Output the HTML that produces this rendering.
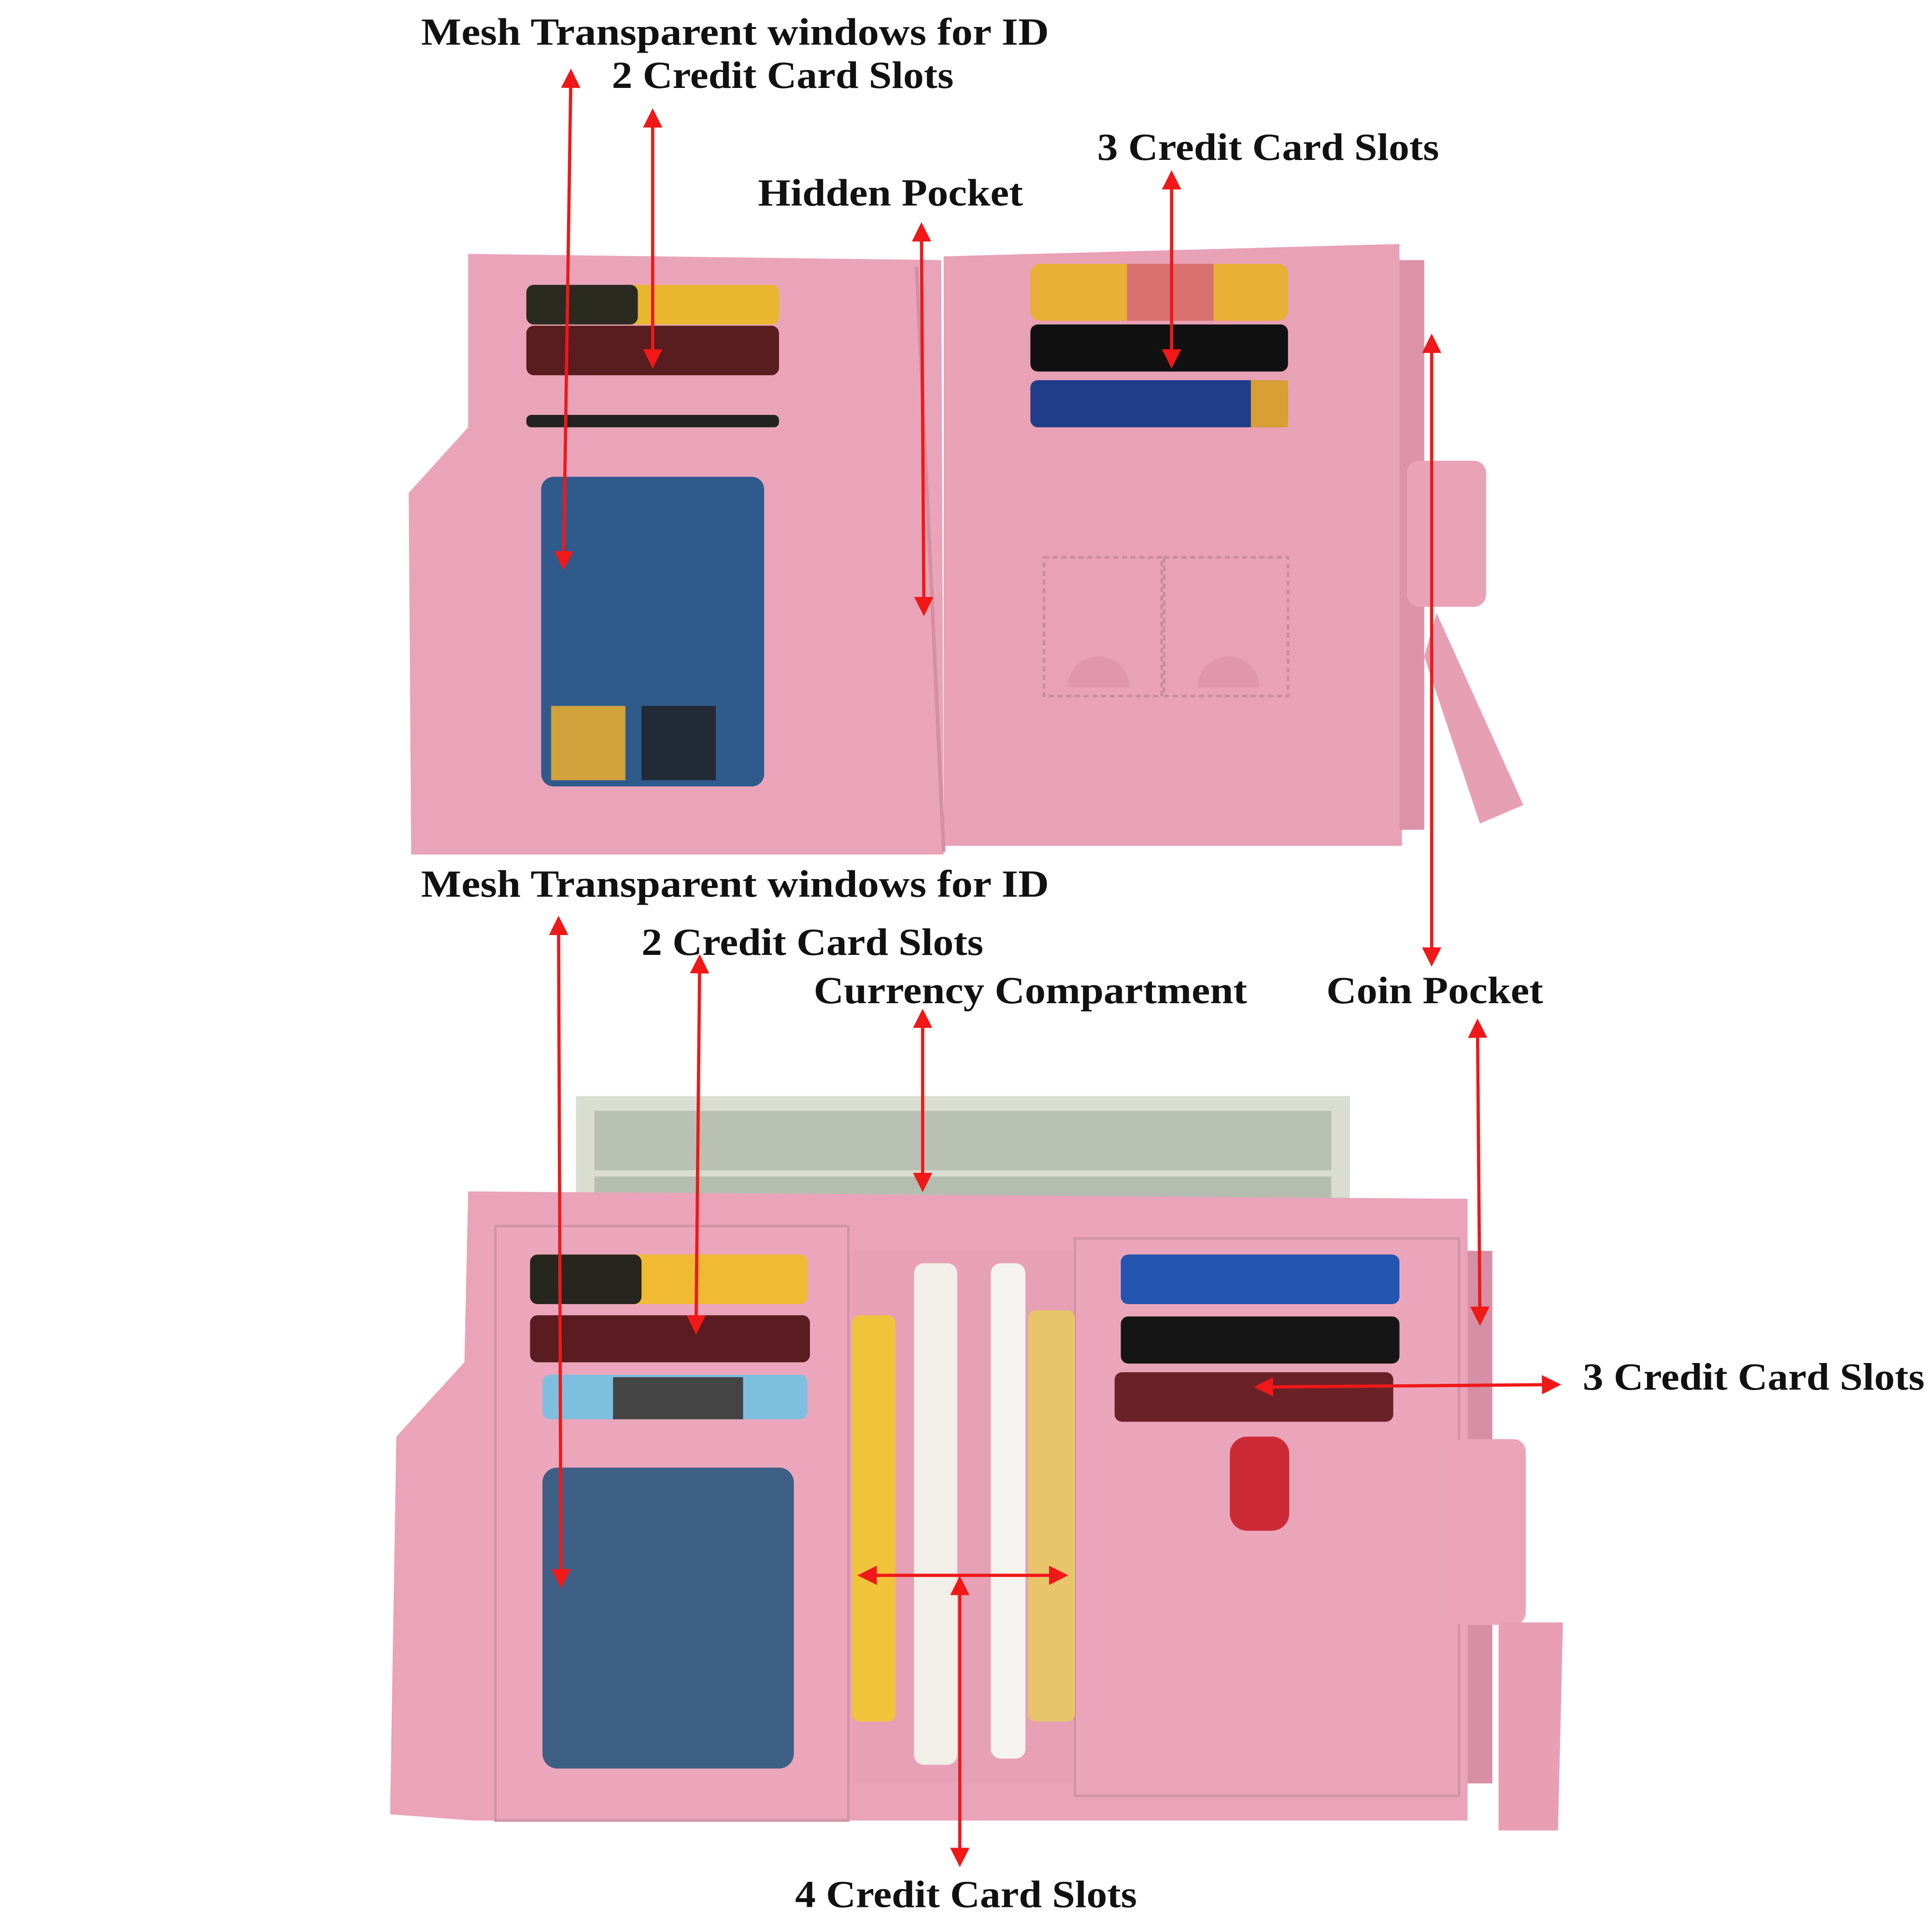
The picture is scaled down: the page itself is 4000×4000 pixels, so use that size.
<!DOCTYPE html>
<html><head><meta charset="utf-8"><style>
html,body{margin:0;padding:0;background:#fff}
svg{display:block}
text{font-family:"Liberation Serif",serif;font-weight:bold;font-size:31px;fill:#111}
</style></head><body>
<svg width="4000" height="4000" viewBox="0 0 1560 1560" xmlns="http://www.w3.org/2000/svg">
<defs>
<marker id="a" markerWidth="6" markerHeight="6" refX="5" refY="3" orient="auto-start-reverse" markerUnits="strokeWidth">
<path d="M0,0 L6,3 L0,6 z" fill="#f01818"/></marker>
</defs>
<!-- TOP WALLET -->
<path d="M378,205 L760,210 L762,690 L332,690 L330,398 L378,345 Z" fill="#eaa4b9"/>
<path d="M762,207 L1130,197 L1132,683 L762,683 Z" fill="#e9a1b6"/>
<rect x="1130" y="210" width="20" height="460" fill="#dc93a8"/>
<rect x="1136" y="372" width="64" height="118" rx="10" fill="#eaa2b7"/>
<path d="M1160,495 L1230,650 L1195,665 L1150,530 Z" fill="#e79fb3"/>
<line x1="740" y1="215" x2="762" y2="688" stroke="#d48fa3" stroke-width="3"/>
<rect x="425" y="230" width="204" height="32" rx="6" fill="#e9b630"/>
<rect x="425" y="230" width="90" height="32" rx="6" fill="#2a2a20"/>
<rect x="425" y="263" width="204" height="40" rx="6" fill="#5a1d1f"/>
<rect x="425" y="335" width="204" height="10" rx="4" fill="#222"/>
<rect x="437" y="385" width="180" height="250" rx="10" fill="#2f5a8c"/>
<rect x="445" y="570" width="60" height="60" fill="#d2a23a"/>
<rect x="518" y="570" width="60" height="60" fill="#222a35"/>
<rect x="832" y="213" width="208" height="46" rx="8" fill="#e8b035"/>
<rect x="910" y="213" width="70" height="46" fill="#d97070"/>
<rect x="832" y="262" width="208" height="38" rx="6" fill="#111"/>
<rect x="832" y="307" width="208" height="38" rx="6" fill="#1f3d8a"/>
<rect x="1010" y="307" width="30" height="38" fill="#d8a034"/>
<rect x="843" y="450" width="95" height="112" fill="none" stroke="#c98a9d" stroke-width="2" stroke-dasharray="4 3"/>
<rect x="940" y="450" width="100" height="112" fill="none" stroke="#c98a9d" stroke-width="2" stroke-dasharray="4 3"/>
<path d="M862,555 a25,25 0 0 1 50,0 z" fill="#e096ab"/>
<path d="M967,555 a25,25 0 0 1 50,0 z" fill="#e096ab"/>
<!-- BOTTOM WALLET -->
<rect x="465" y="885" width="625" height="110" fill="#d9ddd2"/>
<rect x="480" y="897" width="595" height="48" fill="#b9c1b5"/>
<rect x="480" y="950" width="595" height="45" fill="#b5bdb1"/>
<path d="M378,962 L1185,968 L1185,1470 L382,1470 L315,1465 L320,1160 L375,1100 Z" fill="#eaa3b8"/>
<rect x="400" y="990" width="285" height="480" fill="#eca6bb" stroke="#d293a6" stroke-width="2"/>
<rect x="688" y="1010" width="180" height="430" fill="#e7a0b5"/>
<rect x="868" y="1000" width="310" height="450" fill="#eba5ba" stroke="#d293a6" stroke-width="2"/>
<rect x="688" y="1062" width="35" height="328" rx="6" fill="#f0c43a"/>
<rect x="738" y="1020" width="35" height="405" rx="8" fill="#f2eee8"/>
<rect x="800" y="1020" width="28" height="400" rx="8" fill="#f5f3f0"/>
<rect x="830" y="1058" width="38" height="332" rx="6" fill="#e8c56a"/>
<rect x="428" y="1013" width="224" height="40" rx="6" fill="#f0bb32"/>
<rect x="428" y="1013" width="90" height="40" rx="6" fill="#27261e"/>
<rect x="428" y="1062" width="226" height="38" rx="6" fill="#5a1c20"/>
<rect x="438" y="1110" width="214" height="36" rx="6" fill="#7ebfe0"/>
<rect x="495" y="1112" width="105" height="34" fill="#444"/>
<rect x="438" y="1185" width="203" height="243" rx="12" fill="#3e5f85"/>
<rect x="905" y="1013" width="225" height="40" rx="6" fill="#2455b0"/>
<rect x="905" y="1063" width="225" height="38" rx="6" fill="#151515"/>
<rect x="900" y="1108" width="225" height="40" rx="6" fill="#6a2228"/>
<rect x="993" y="1160" width="48" height="76" rx="14" fill="#cc2b35"/>
<rect x="1185" y="1010" width="20" height="430" fill="#d68fa4"/>
<rect x="1172" y="1162" width="60" height="150" rx="10" fill="#eba3b8"/>
<path d="M1210,1310 L1262,1310 L1258,1478 L1210,1478 Z" fill="#e89fb4"/>
<!-- ARROWS -->
<g stroke="#f01818" stroke-width="2.6" fill="none" marker-start="url(#a)" marker-end="url(#a)">
<line x1="461" y1="58" x2="455" y2="458"/>
<line x1="527" y1="90" x2="527" y2="295"/>
<line x1="744" y1="182" x2="746" y2="495"/>
<line x1="946" y1="140" x2="946" y2="295"/>
<line x1="1156" y1="272" x2="1156" y2="778"/>
<line x1="451" y1="742" x2="453" y2="1280"/>
<line x1="565" y1="773" x2="562" y2="1075"/>
<line x1="745" y1="817" x2="745" y2="960"/>
<line x1="1193" y1="825" x2="1195" y2="1068"/>
<line x1="1015" y1="1120" x2="1258" y2="1118"/>
<line x1="695" y1="1272" x2="860" y2="1272"/>
<line x1="775" y1="1275" x2="775" y2="1505"/>
</g>
<!-- LABELS -->
<g lengthAdjust="spacingAndGlyphs">
<text x="340" y="36" textLength="507" lengthAdjust="spacingAndGlyphs">Mesh Transparent windows for ID</text>
<text x="494" y="71" textLength="276" lengthAdjust="spacingAndGlyphs">2 Credit Card Slots</text>
<text x="886" y="129" textLength="276" lengthAdjust="spacingAndGlyphs">3 Credit Card Slots</text>
<text x="612" y="166" textLength="214" lengthAdjust="spacingAndGlyphs">Hidden Pocket</text>
<text x="340" y="724" textLength="507" lengthAdjust="spacingAndGlyphs">Mesh Transparent windows for ID</text>
<text x="518" y="771" textLength="276" lengthAdjust="spacingAndGlyphs">2 Credit Card Slots</text>
<text x="657" y="810" textLength="350" lengthAdjust="spacingAndGlyphs">Currency Compartment</text>
<text x="1071" y="810" textLength="175" lengthAdjust="spacingAndGlyphs">Coin Pocket</text>
<text x="1278" y="1122" textLength="276" lengthAdjust="spacingAndGlyphs">3 Credit Card Slots</text>
<text x="642" y="1540" textLength="276" lengthAdjust="spacingAndGlyphs">4 Credit Card Slots</text>
</g>
</svg>
</body></html>
